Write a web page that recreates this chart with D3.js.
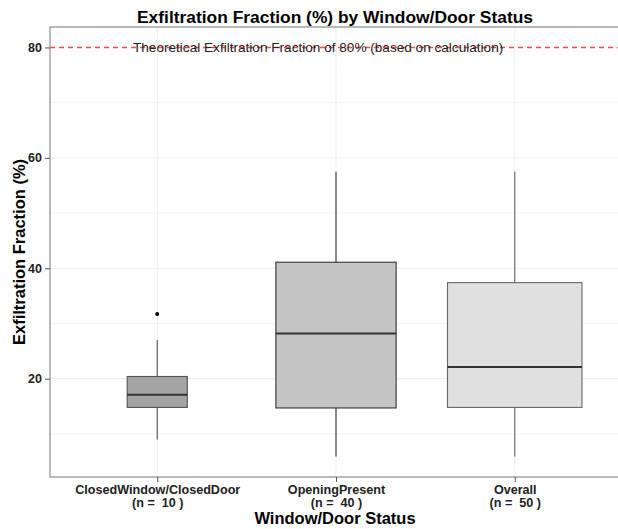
<!DOCTYPE html>
<html>
<head>
<meta charset="utf-8">
<script src="https://cdn.jsdelivr.net/npm/d3@7"></script>
<style>
  body { margin: 0; background: #fff; }
  text { font-family: "Liberation Sans", Arial, sans-serif; white-space: pre; }
</style>
</head>
<body>
<svg width="618" height="529"></svg>
<script>
// data
var categories = ["ClosedWindow/ClosedDoor", "OpeningPresent", "Overall"];
var counts = [10, 40, 50];
var lowerWhisker = [9.0, 5.9, 5.9];
var q1 = [14.8, 14.7, 14.8];
var median = [17.1, 28.2, 22.1];
var q3 = [20.4, 41.1, 37.4];
var upperWhisker = [27.0, 57.5, 57.5];
var outliers = [[31.7], [], []];
var yTicks = [20, 40, 60, 80];
var yMinor = [10, 30, 50, 70];
var refLine = 80;
var refLabel = "Theoretical Exfiltration Fraction of 80% (based on calculation)";

var fills = ["#a4a4a4", "#c4c4c4", "#e0e0e0"];
var strokes = ["#555555", "#333333", "#666666"];

var svg = d3.select("svg");
var margin = {left: 50, top: 27, right: -4, bottom: 52};
var W = 618, H = 529;

// y: 5% expansion like ggplot
var lo = d3.min(lowerWhisker), hi = refLine;
var pad = (hi - lo) * 0.05;
var y = d3.scaleLinear()
  .domain([lo - pad, hi + pad])
  .range([H - margin.bottom, margin.top]);

// x: discrete, 0.6 units of expansion each side
var x = d3.scaleLinear()
  .domain([0.4, categories.length + 0.6])
  .range([margin.left, W - margin.right]);

var maxW = 134.5;
var boxW = counts.map(function(n) { return maxW * Math.sqrt(n) / Math.sqrt(d3.max(counts)); });

// grid
var grid = svg.append("g");
grid.selectAll(".minor").data(yMinor).enter().append("line")
  .attr("x1", x.range()[0]).attr("x2", x.range()[1])
  .attr("y1", function(d) { return y(d); }).attr("y2", function(d) { return y(d); })
  .attr("stroke", "#f4f4f4").attr("stroke-width", 1);
grid.selectAll(".major").data(yTicks.filter(function(t) { return t !== refLine; })).enter().append("line")
  .attr("x1", x.range()[0]).attr("x2", x.range()[1])
  .attr("y1", function(d) { return y(d); }).attr("y2", function(d) { return y(d); })
  .attr("stroke", "#ececec").attr("stroke-width", 1);
grid.selectAll(".vmajor").data(categories).enter().append("line")
  .attr("x1", function(d, i) { return x(i + 1); }).attr("x2", function(d, i) { return x(i + 1); })
  .attr("y1", y.range()[0]).attr("y2", y.range()[1])
  .attr("stroke", "#ececec").attr("stroke-width", 1);

// reference line
svg.append("line")
  .attr("x1", x.range()[0]).attr("x2", x.range()[1])
  .attr("y1", y(refLine)).attr("y2", y(refLine))
  .attr("stroke", "#ff4646").attr("stroke-width", 1.6)
  .attr("stroke-dasharray", "5,4");

// boxes
var boxes = svg.selectAll(".box").data(categories).enter().append("g");
boxes.append("line")
  .attr("x1", function(d, i) { return x(i + 1); }).attr("x2", function(d, i) { return x(i + 1); })
  .attr("y1", function(d, i) { return y(upperWhisker[i]); })
  .attr("y2", function(d, i) { return y(q3[i]); })
  .attr("stroke", function(d, i) { return strokes[i]; }).attr("stroke-width", 1.1);
boxes.append("line")
  .attr("x1", function(d, i) { return x(i + 1); }).attr("x2", function(d, i) { return x(i + 1); })
  .attr("y1", function(d, i) { return y(q1[i]); })
  .attr("y2", function(d, i) { return y(lowerWhisker[i]); })
  .attr("stroke", function(d, i) { return strokes[i]; }).attr("stroke-width", 1.1);
boxes.append("rect")
  .attr("x", function(d, i) { return x(i + 1) - boxW[i] / 2; })
  .attr("width", function(d, i) { return boxW[i]; })
  .attr("y", function(d, i) { return y(q3[i]); })
  .attr("height", function(d, i) { return y(q1[i]) - y(q3[i]); })
  .attr("fill", function(d, i) { return fills[i]; })
  .attr("stroke", function(d, i) { return strokes[i]; }).attr("stroke-width", 1.1);
boxes.append("line")
  .attr("x1", function(d, i) { return x(i + 1) - boxW[i] / 2; })
  .attr("x2", function(d, i) { return x(i + 1) + boxW[i] / 2; })
  .attr("y1", function(d, i) { return y(median[i]); })
  .attr("y2", function(d, i) { return y(median[i]); })
  .attr("stroke", "#333").attr("stroke-width", 2);
boxes.each(function(d, i) {
  d3.select(this).selectAll("circle").data(outliers[i]).enter().append("circle")
    .attr("cx", x(i + 1)).attr("cy", function(v) { return y(v); })
    .attr("r", 2).attr("fill", "#000");
});

// annotation
svg.append("text")
  .attr("x", x(1.9)).attr("y", y(refLine))
  .attr("dy", "0.35em")
  .attr("text-anchor", "middle")
  .attr("font-size", 13.6)
  .attr("fill", "#222")
  .text(refLabel);

// panel border
svg.append("rect")
  .attr("x", x.range()[0]).attr("y", y.range()[1])
  .attr("width", x.range()[1] - x.range()[0])
  .attr("height", y.range()[0] - y.range()[1])
  .attr("fill", "none").attr("stroke", "#8c8c8c").attr("stroke-width", 1.2);

// y axis
var yAxis = svg.append("g")
  .attr("transform", "translate(" + x.range()[0] + ",0)")
  .call(d3.axisLeft(y).tickValues(yTicks).tickSize(5).tickPadding(3));
yAxis.select(".domain").remove();
yAxis.selectAll("line").attr("stroke", "#555");
yAxis.selectAll("text")
  .attr("font-size", 12.5).attr("font-weight", "bold").attr("fill", "#222");

// x axis
var xAxis = svg.append("g")
  .attr("transform", "translate(0," + y.range()[0] + ")")
  .call(d3.axisBottom(x).tickValues(d3.range(1, categories.length + 1)).tickSize(5).tickFormat(""));
xAxis.select(".domain").remove();
xAxis.selectAll("line").attr("stroke", "#555");
xAxis.selectAll(".tick").each(function(d, i) {
  var t = d3.select(this).append("text")
    .attr("text-anchor", "middle")
    .attr("font-size", 12.6).attr("font-weight", "bold").attr("fill", "#222");
  t.append("tspan").attr("x", 0).attr("y", 17).text(categories[i]);
  t.append("tspan").attr("x", 0).attr("y", 29.5).text("(n =  " + counts[i] + " )");
});

// titles
svg.append("text")
  .attr("x", 335).attr("y", 22.5)
  .attr("text-anchor", "middle")
  .attr("font-size", 17.4).attr("font-weight", "bold")
  .text("Exfiltration Fraction (%) by Window/Door Status");
svg.append("text")
  .attr("x", 335).attr("y", 524)
  .attr("text-anchor", "middle")
  .attr("font-size", 16.5).attr("font-weight", "bold")
  .text("Window/Door Status");
svg.append("text")
  .attr("transform", "translate(25," + ((y.range()[0] + y.range()[1]) / 2) + ") rotate(-90)")
  .attr("text-anchor", "middle")
  .attr("font-size", 16.5).attr("font-weight", "bold")
  .text("Exfiltration Fraction (%)");
</script>
</body>
</html>
